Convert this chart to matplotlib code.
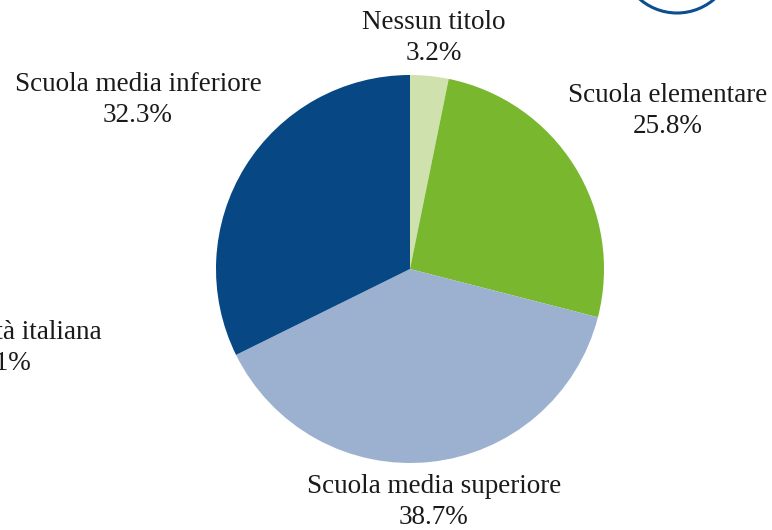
import matplotlib.pyplot as plt
from matplotlib.patches import Circle

categories = ['Nessun titolo', 'Scuola elementare', 'Scuola media superiore', 'Scuola media inferiore']
values = [3.2, 25.8, 38.7, 32.3]
colors = ['#cfe2ae', '#79b72f', '#9cb1d0', '#064784']

# label anchor points (pixels from top-left)
label_pos = [(434, 38), (668, 111), (434, 502), (138, 100)]

W, H = 772, 530

fig = plt.figure(figsize=(W / 100, H / 100), dpi=100)
ax = fig.add_axes([0, 0, 1, 1])

ax.pie(values, colors=colors, startangle=90, counterclock=False,
       center=(410, H - 269), radius=194, frame=True)
ax.set_xlim(0, W)
ax.set_ylim(0, H)
ax.set_aspect('equal')
ax.axis('off')

font = dict(family='Liberation Serif', fontsize=19.5, color='#1a1a1a',
            va='center', linespacing=1.3, multialignment='center')
for cat, val, (px, py) in zip(categories, values, label_pos):
    ax.text(px, H - py, f'{cat}\n{val:.1f}%', ha='center', **font)

# label of the neighbouring chart, cut by the left edge
ax.text(102, H - 348, 'Nazionalità italiana\n96.1%', ha='right', clip_on=True, **font)

# decorative ring at the top right
ax.add_patch(Circle((677, H + 44), 57, fill=False, lw=2.2, ec='#0b4f91', clip_on=True))

fig.savefig('out.png', dpi=100)
